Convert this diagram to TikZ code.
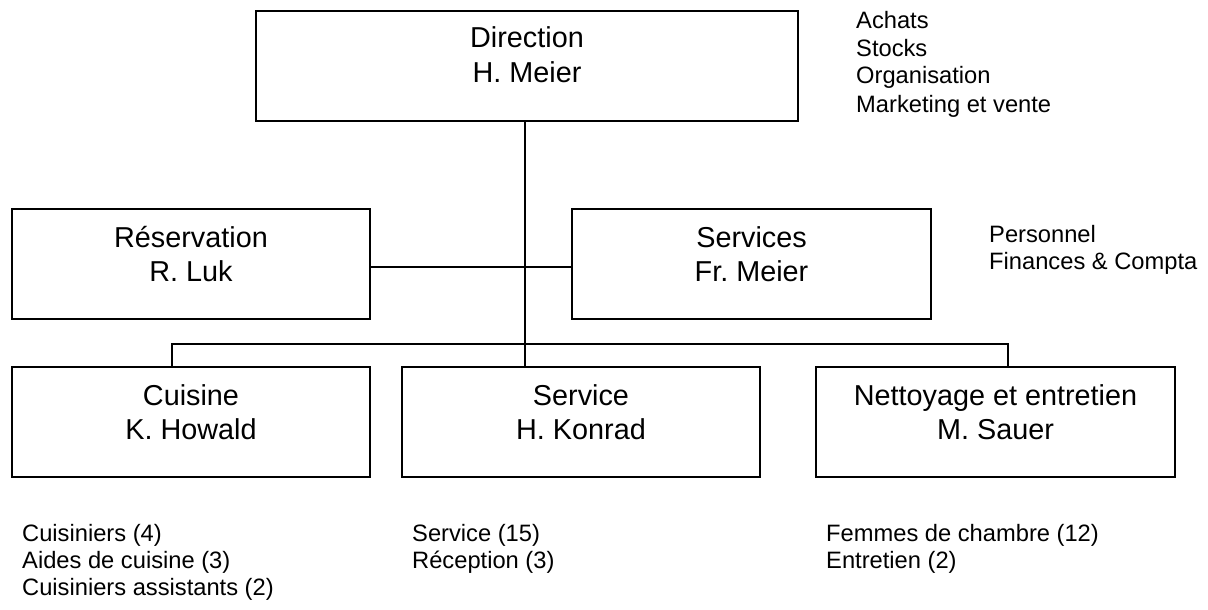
\documentclass[tikz,border=0pt]{standalone}
\usepackage{fontspec}
\setmainfont{Liberation Sans}
\frenchspacing
\begin{document}
\begin{tikzpicture}[x=1pt,y=-1pt,
  orgbox/.style={draw, line width=1.8pt, minimum width=358pt, minimum height=110pt,
    inner sep=0pt, outer sep=0pt, anchor=north west},
  boxtext/.style={inner sep=0pt, anchor=base, font=\fontsize{28.8}{34}\selectfont},
  sidetext/.style={inner sep=0pt, anchor=base west, font=\fontsize{23.7}{27.6}\selectfont},
  spine/.style={line width=2pt},
  conn/.style={line width=1.5pt}]
\useasboundingbox (0,0) rectangle (1208,610);

% boxes
\node[orgbox, minimum width=542pt] (dir) at (256,11) {};
\node[orgbox] (res) at (12,209) {};
\node[orgbox, minimum width=359pt] (svc) at (572,209) {};
\node[orgbox] (cui) at (12,367) {};
\node[orgbox] (ser) at (402,367) {};
\node[orgbox, minimum width=359pt] (net) at (816,367) {};

% box texts
\path (dir.north) ++(0,37) node[boxtext] (dirT) {Direction} ++(0,34) node[boxtext] (dirN) {H. Meier};
\path (res.north) ++(0,38) node[boxtext] (resT) {Réservation} ++(0,34) node[boxtext] (resN) {R. Luk};
\path (svc.north) ++(0,38) node[boxtext] (svcT) {Services} ++(0,34) node[boxtext] (svcN) {Fr. Meier};
\path (cui.north) ++(0,38) node[boxtext] (cuiT) {Cuisine} ++(0,34) node[boxtext] (cuiN) {K. Howald};
\path (ser.north) ++(0,38) node[boxtext] (serT) {Service} ++(0,34) node[boxtext] (serN) {H. Konrad};
\path (net.north) ++(0,38) node[boxtext] (netT) {Nettoyage et entretien} ++(0,34) node[boxtext] (netN) {M. Sauer};

% connectors
\coordinate (sx) at (525,0);
\coordinate (hl) at (0,267);
\coordinate (bl) at (172,344);
\coordinate (br) at (1008,344);
\draw[spine] (dir.south -| sx) -- (ser.north -| sx);
\draw[conn] (res.east |- hl) -- (svc.west |- hl);
\draw[conn] (cui.north -| bl) -- (bl) -- (br) -- (net.north -| br);

% side notes
\node[sidetext] (a1) at (856,29) {Achats};
\node[sidetext] (a2) at (856,57) {Stocks};
\node[sidetext] (a3) at (856,84) {Organisation};
\node[sidetext] (a4) at (856,112) {Marketing et vente};
\node[sidetext] (p1) at (989,242) {Personnel};
\node[sidetext] (p2) at (989,269) {Finances \& Compta};

\node[sidetext] (c1) at (22,541) {Cuisiniers (4)};
\node[sidetext] (c2) at (22,568) {Aides de cuisine (3)};
\node[sidetext] (c3) at (22,595) {Cuisiniers assistants (2)};
\node[sidetext] (s1) at (412,541) {Service (15)};
\node[sidetext] (s2) at (412,568) {Réception (3)};
\node[sidetext] (n1) at (826,541) {Femmes de chambre (12)};
\node[sidetext] (n2) at (826,568) {Entretien (2)};
\end{tikzpicture}
\end{document}
